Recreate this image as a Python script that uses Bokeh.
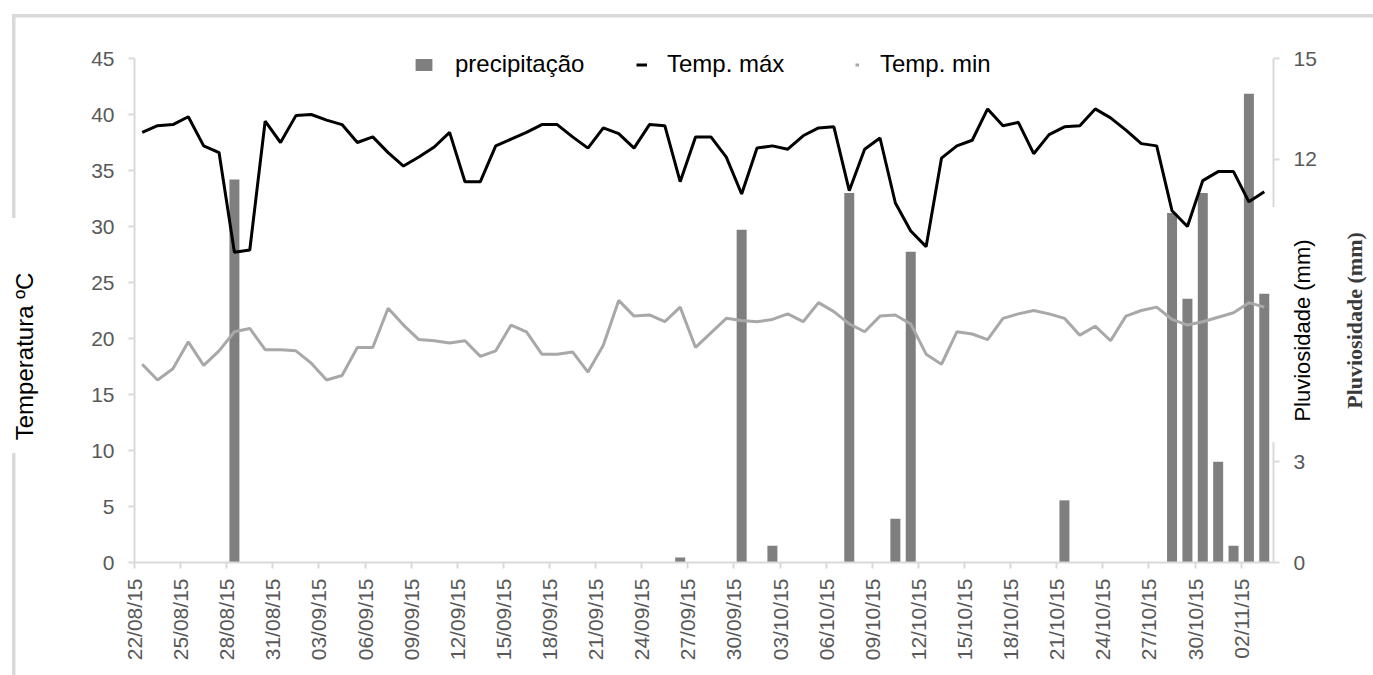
from math import pi
import pandas as pd
from bokeh.plotting import figure
from bokeh.models import (Range1d, LinearAxis, FixedTicker, DatetimeTickFormatter,
                          Legend, LegendItem, Label, ColumnDataSource, InlineStyleSheet)
from bokeh.embed import file_html
from bokeh.resources import INLINE

# ---------------- data ----------------
first_day = "2015-08-22"
temp_max = [38.4, 39.0, 39.1, 39.8, 37.2, 36.6, 27.7, 27.9, 39.4, 37.5,
            39.9, 40.0, 39.5, 39.1, 37.5, 38.0, 36.6, 35.4, 36.2, 37.1,
            38.4, 34.0, 34.0, 37.2, 37.8, 38.4, 39.1, 39.1, 38.0, 37.0,
            38.8, 38.3, 37.0, 39.1, 39.0, 34.0, 38.0, 38.0, 36.2, 32.9,
            37.0, 37.2, 36.9, 38.1, 38.8, 38.9, 33.2, 36.9, 37.9, 32.1,
            29.6, 28.2, 36.1, 37.2, 37.7, 40.5, 39.0, 39.3, 36.5, 38.2,
            38.9, 39.0, 40.5, 39.7, 38.6, 37.4, 37.2, 31.4, 30.0, 34.1,
            34.9, 34.9, 32.2, 33.1]
temp_min = [17.7, 16.3, 17.3, 19.7, 17.6, 18.9, 20.6, 20.9, 19.0, 19.0,
            18.9, 17.8, 16.3, 16.7, 19.2, 19.2, 22.7, 21.2, 19.9, 19.8,
            19.6, 19.8, 18.4, 18.9, 21.2, 20.6, 18.6, 18.6, 18.8, 17.0,
            19.4, 23.4, 22.0, 22.1, 21.5, 22.8, 19.2, 20.5, 21.8, 21.6,
            21.5, 21.7, 22.2, 21.5, 23.2, 22.4, 21.3, 20.6, 22.0, 22.1,
            21.3, 18.6, 17.7, 20.6, 20.4, 19.9, 21.8, 22.2, 22.5, 22.2,
            21.8, 20.3, 21.1, 19.8, 22.0, 22.5, 22.8, 21.7, 21.2, 21.5,
            21.9, 22.3, 23.2, 22.8]
precip = [0, 0, 0, 0, 0, 0, 11.4, 0, 0, 0,
          0, 0, 0, 0, 0, 0, 0, 0, 0, 0,
          0, 0, 0, 0, 0, 0, 0, 0, 0, 0,
          0, 0, 0, 0, 0, 0.15, 0, 0, 0, 9.9,
          0, 0.5, 0, 0, 0, 0, 11.0, 0, 0, 1.3,
          9.25, 0, 0, 0, 0, 0, 0, 0, 0, 0,
          1.85, 0, 0, 0, 0, 0, 0, 10.4, 7.85, 11.0,
          3.0, 0.5, 13.95, 8.0]
temp_ticks = [0, 5, 10, 15, 20, 25, 30, 35, 40, 45]
rain_ticks = [0, 3, 12, 15]
legend_labels = ["precipitação", "Temp. máx", "Temp. min"]
left_title = "Temperatura ºC"
right_title = "Pluviosidade (mm)"

# ---------------- derived ----------------
days = pd.date_range(first_day, periods=len(temp_max), freq="D")
centres = days + pd.Timedelta(hours=12)   # each daily value sits in the middle of its day slot
DAY_MS = 86400000
tick_ms = [int(t.value // 10**6) for t in days[::3]]

src = ColumnDataSource(dict(x=centres, tmax=temp_max, tmin=temp_min, rain=precip))

W, H = 1373, 675
FL, FR, FT, FB = 134, 1273, 30, 562     # frame edges in canvas pixels
AX_TOP = 58                             # where the value 45 / 15 sits
t_top = 45 * (FB - FT) / (FB - AX_TOP)  # temperature at frame top (axes are bounded to 0..45)
r_top = 15 * (FB - FT) / (FB - AX_TOP)

p = figure(width=W, height=H, x_axis_type="datetime",
           x_range=Range1d(days[0], days[0] + pd.Timedelta(days=74.1)),
           y_range=Range1d(0, t_top),
           output_backend="svg", toolbar_location=None,
           min_border_left=FL, min_border_right=W - FR,
           min_border_top=FT, min_border_bottom=H - FB,
           background_fill_color="white", border_fill_color="white")
p.outline_line_color = None
p.grid.visible = False

p.extra_y_ranges = {"rain": Range1d(0, r_top)}
raxis = LinearAxis(y_range_name="rain", ticker=FixedTicker(ticks=rain_ticks), bounds=(0, 15))
p.add_layout(raxis, "right")

p.yaxis[0].ticker = FixedTicker(ticks=temp_ticks)
p.yaxis[0].bounds = (0, 45)
p.xaxis[0].ticker = FixedTicker(ticks=tick_ms)
p.xaxis[0].formatter = DatetimeTickFormatter(days="%d/%m/%y", months="%d/%m/%y")
p.xaxis[0].major_label_orientation = pi / 2

for ax in [p.xaxis[0], p.yaxis[0], raxis]:
    ax.axis_line_color = "#d9d9d9"
    ax.axis_line_width = 2
    ax.major_tick_line_color = "#d9d9d9"
    ax.major_tick_line_width = 2
    ax.major_tick_in = 0
    ax.major_tick_out = 6
    ax.minor_tick_line_color = None
    ax.major_label_text_color = "#595959"
    ax.major_label_text_font = "Liberation Sans"
    ax.major_label_text_font_size = "21px"
p.xaxis[0].major_label_standoff = 10
p.yaxis[0].major_label_standoff = 14
raxis.major_label_standoff = 14

bars = p.vbar(x="x", top="rain", width=0.65 * DAY_MS, y_range_name="rain",
              fill_color="#7f7f7f", line_color=None, source=src)
lmax = p.line("x", "tmax", line_color="black", line_width=3, source=src)
lmin = p.line("x", "tmin", line_color="#a8a8a8", line_width=3, source=src)

# legends (one per entry, to reproduce the original spacing)
y_leg = 484
for lab, r, xloc, gw, so in [(legend_labels[0], bars, 279, 21, 21),
                             (legend_labels[1], lmax, 502, 11, 20),
                             (legend_labels[2], lmin, 721, 4, 21)]:
    leg = Legend(items=[LegendItem(label=lab, renderers=[r])], location=(xloc, y_leg),
                 orientation="horizontal", glyph_width=gw, glyph_height=15,
                 label_standoff=so, padding=0, margin=0, spacing=0,
                 border_line_alpha=0, background_fill_alpha=0,
                 label_text_font="Liberation Sans", label_text_font_size="24px",
                 label_text_color="black")
    p.add_layout(leg)

# rotated titles (placed in side panels so that they are not clipped to the frame)
p.add_layout(Label(x=24, y=356, x_units="canvas", y_units="canvas", text=left_title,
                   angle=pi / 2, text_align="center", text_baseline="middle",
                   text_font="Liberation Sans", text_font_size="24px", text_color="black"), "left")
p.add_layout(Label(x=1354, y=320, x_units="canvas", y_units="canvas", text=right_title,
                   angle=pi / 2, text_align="center", text_baseline="middle",
                   text_font="Liberation Serif", text_font_style="bold",
                   text_font_size="22px", text_color="#3a3a3a"), "left")
p.add_layout(Label(x=1302, y=330, x_units="canvas", y_units="canvas", text=right_title,
                   angle=pi / 2, text_align="center", text_baseline="middle",
                   text_font="Liberation Sans", text_font_size="22px", text_color="black"), "right")

# light outer frame of the original chart area (top and left edges, gap behind the left title)
# and the white text-box of the right title that hides part of the right axis line
css = """
:host::before {
  content: ""; position: absolute; left: 11.5px; top: 13.5px; right: 0; bottom: 0;
  pointer-events: none; z-index: 5;
  background:
    linear-gradient(#d9d9d9, #d9d9d9) left top / 100% 3.5px no-repeat,
    linear-gradient(to bottom, #d9d9d9 0px, #d9d9d9 203.5px, transparent 203.5px,
                    transparent 438.5px, #d9d9d9 438.5px) left top / 3.5px 100% no-repeat;
}
:host::after {
  content: ""; position: absolute; left: 1270px; top: 207px; width: 7px; height: 235px;
  background: white; pointer-events: none; z-index: 5;
}
"""
p.stylesheets = [InlineStyleSheet(css=css)]

open("out.html", "w").write(file_html(p, INLINE))
